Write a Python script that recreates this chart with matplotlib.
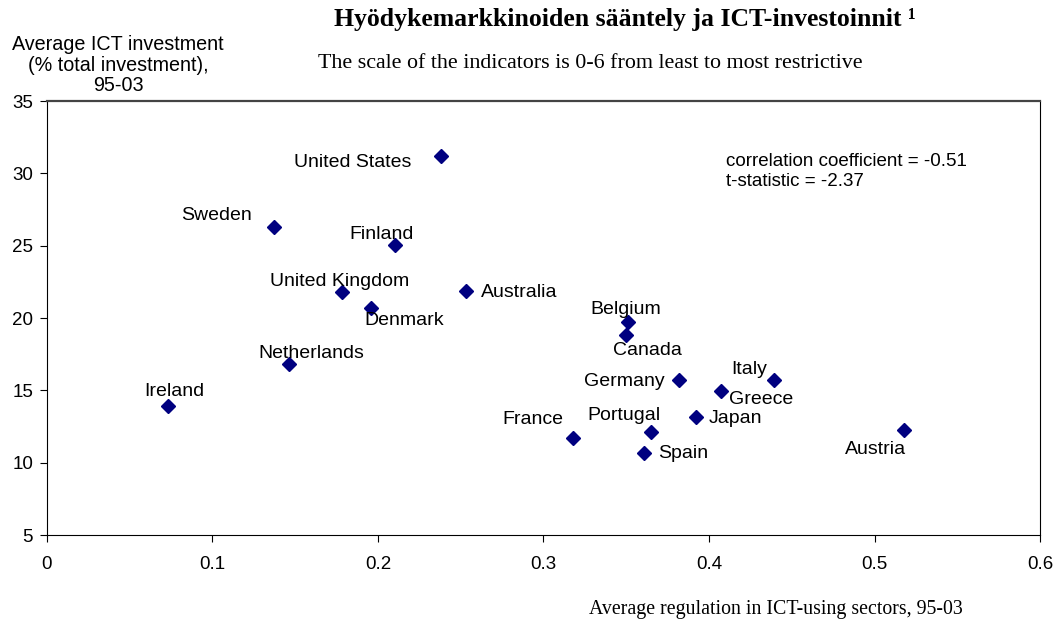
import matplotlib.pyplot as plt

# data
countries = ['Ireland', 'Netherlands', 'Sweden', 'United Kingdom', 'Denmark', 'Finland',
             'United States', 'Australia', 'France', 'Belgium', 'Canada', 'Germany',
             'Portugal', 'Spain', 'Japan', 'Greece', 'Italy', 'Austria']
regulation = [0.073, 0.146, 0.137, 0.178, 0.196, 0.210, 0.238, 0.253, 0.318, 0.351,
              0.350, 0.382, 0.365, 0.361, 0.392, 0.407, 0.439, 0.518]
ict_invest = [13.9, 16.8, 26.3, 21.8, 20.7, 25.05, 31.2, 21.9, 11.7, 19.7,
              18.8, 15.7, 12.1, 10.7, 13.15, 14.95, 15.7, 12.25]

# label placement: (dx, dy) in pixels, horizontal alignment
label_pos = {
    'Ireland': (7, 15, 'center'),
    'Netherlands': (23, 11, 'center'),
    'Sweden': (-22, 11, 'right'),
    'United Kingdom': (-2, 11, 'center'),
    'Denmark': (33, -13, 'center'),
    'Finland': (-13, 11, 'center'),
    'United States': (-29, -6, 'right'),
    'Australia': (15, -2, 'left'),
    'France': (-10, 19, 'right'),
    'Belgium': (-2, 13, 'center'),
    'Canada': (21, -15, 'center'),
    'Germany': (-15, -1, 'right'),
    'Portugal': (-27, 17, 'center'),
    'Spain': (14, -1, 'left'),
    'Japan': (13, -1, 'left'),
    'Greece': (8, -8, 'left'),
    'Italy': (-6, 11, 'right'),
    'Austria': (2, -19, 'right'),
}

plt.rcParams['font.family'] = ['Liberation Sans', 'DejaVu Sans']

fig = plt.figure(figsize=(10.55, 6.2), dpi=100)
ax = fig.add_axes([0.0445, 0.137, 0.9413, 0.700])

ax.plot(regulation, ict_invest, linestyle='none', marker='D', markersize=7,
        color='#000080')

for name, x, y in zip(countries, regulation, ict_invest):
    dx, dy, ha = label_pos[name]
    ax.annotate(name, (x, y), xytext=(dx, dy), textcoords='offset pixels',
                ha=ha, va='center', fontsize=14)

ax.set_xlim(0, 0.6)
ax.set_ylim(5, 35)
ax.set_xticks([0, 0.1, 0.2, 0.3, 0.4, 0.5, 0.6])
ax.set_xticklabels(['0', '0.1', '0.2', '0.3', '0.4', '0.5', '0.6'])
ax.set_yticks([5, 10, 15, 20, 25, 30, 35])
ax.tick_params(axis='x', direction='out', length=5, pad=10, labelsize=13.5)
ax.tick_params(axis='y', direction='out', length=5, pad=5, labelsize=13.5)
ax.spines['top'].set_linewidth(1.6)
ax.spines['top'].set_color('#444444')

ax.text(0.684, 0.88, 'correlation coefficient = -0.51\nt-statistic = -2.37',
        transform=ax.transAxes, fontsize=13.5, va='top', linespacing=1.2)

fig.text(0.5925, 0.968, 'Hyödykemarkkinoiden sääntely ja ICT-investoinnit ¹',
         ha='center', va='center', fontsize=18.5, fontweight='bold',
         family='Liberation Serif')
fig.text(0.56, 0.897, 'The scale of the indicators is 0-6 from least to most restrictive',
         ha='center', va='center', fontsize=15.8, family='Liberation Serif')
fig.text(0.112, 0.895, 'Average ICT investment\n(% total investment),\n95-03',
         ha='center', va='center', fontsize=14.2, linespacing=1.1)
fig.text(0.7355, 0.017, 'Average regulation in ICT-using sectors, 95-03',
         ha='center', va='center', fontsize=14.3, family='Liberation Serif')

plt.savefig('out.png')
